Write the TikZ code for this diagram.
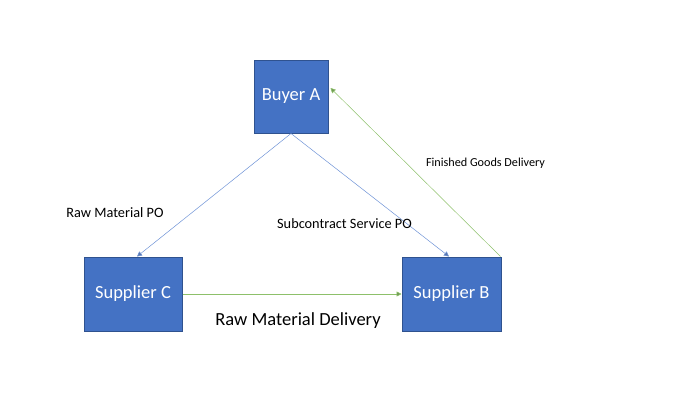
\documentclass[tikz,border=0pt]{standalone}
\usepackage{fontspec}
\setmainfont{Carlito}
\usetikzlibrary{arrows.meta}

\begin{document}
\begin{tikzpicture}[x=1pt,y=-1pt,
	party/.style={draw=boxedge,fill=boxfill,line width=1pt,text=white,font=\fontsize{18.5}{20}\selectfont,inner sep=0pt},
	po/.style={draw=poblue,line width=0.5pt,-{Triangle[length=5pt,width=5pt,fill=poblue!80!black]}},
	delivery/.style={draw=delgreen,line width=0.5pt,-{Triangle[length=5pt,width=5pt,fill=delgreen!80!black]}}]
			\definecolor{boxfill}{HTML}{4472C4}
			\definecolor{boxedge}{HTML}{2F528F}
			\definecolor{poblue}{HTML}{6F93D6}
			\definecolor{delgreen}{HTML}{8DC06A}
			\useasboundingbox (0,0) rectangle (690,400);
			\node [party,minimum width=74pt,minimum height=73pt] (buyer) at (291,96.5) {Buyer A};
			\node [party,minimum width=98pt,minimum height=74pt] (supC) at (133,294) {Supplier C};
			\node [party,minimum width=99pt,minimum height=74pt] (supB) at (451.5,294) {Supplier B};
			\draw [po] (buyer.south) -- ([xshift=4pt]supC.north);
			\draw [po] (buyer.south) -- ([xshift=-2.5pt]supB.north);
			\draw [delivery] (supC.east) -- (supB.west);
			\draw [delivery] ([xshift=-1pt]supB.north east) -- ([xshift=2pt,yshift=8.5pt]buyer.east);
			\node [font=\fontsize{14.3}{16}\selectfont] (rawpo) at (115,213) {Raw Material PO};
			\node [font=\fontsize{14.3}{16}\selectfont] (subpo) at (344.5,224) {Subcontract Service PO};
			\node [font=\fontsize{12.2}{14}\selectfont] (fgdel) at (485.5,163) {Finished Goods Delivery};
			\node [font=\fontsize{18.5}{20}\selectfont] (rawdel) at (298,321) {Raw Material Delivery};
			\end{tikzpicture}
\end{document}
